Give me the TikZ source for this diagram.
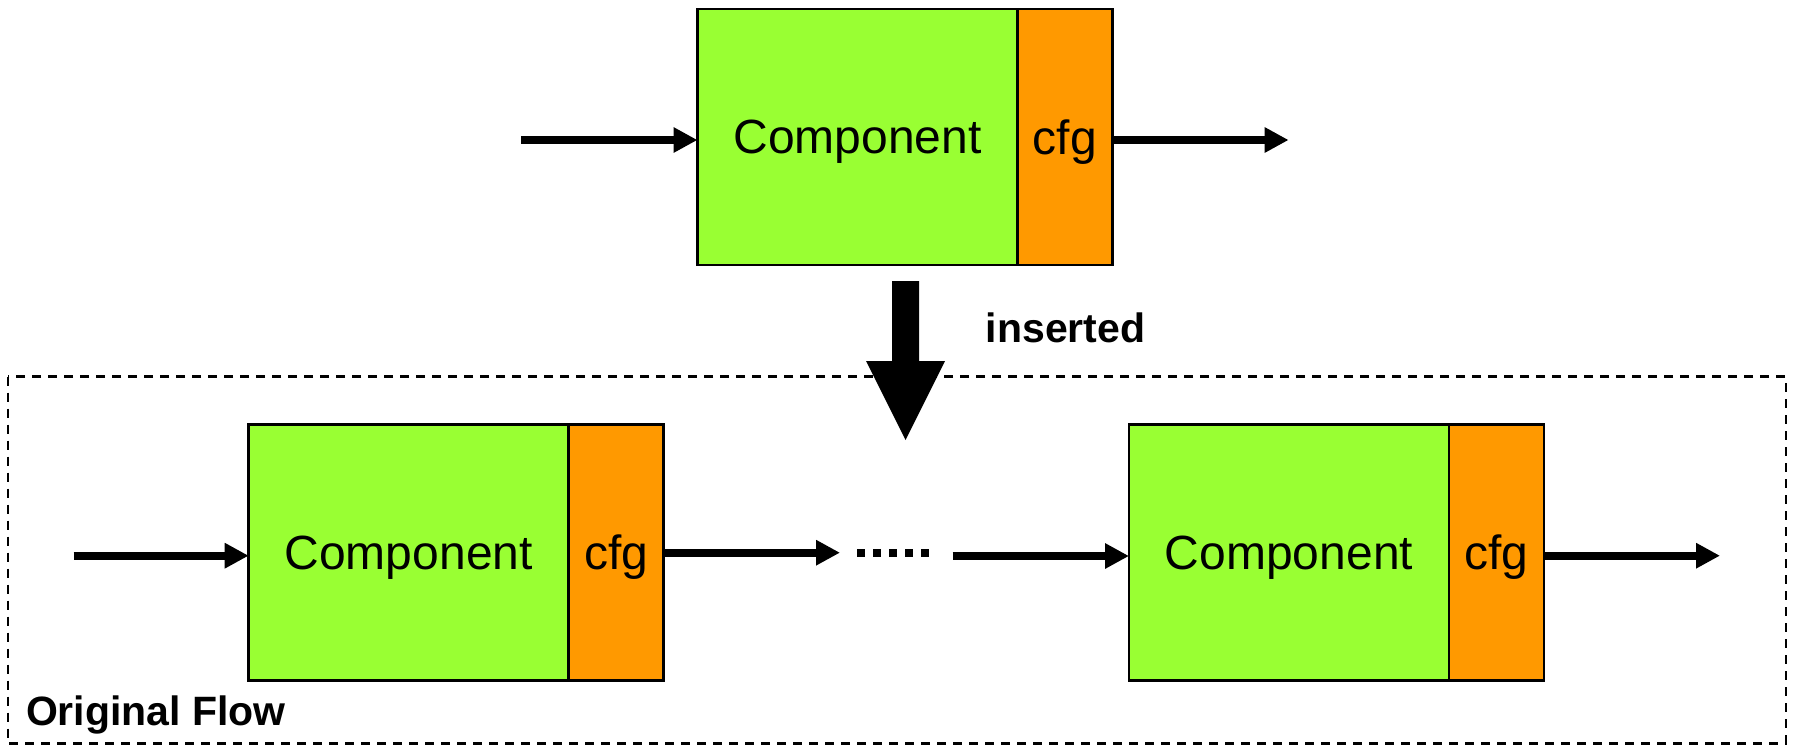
\documentclass[tikz,border=0pt]{standalone}
\usepackage{fontspec}
\setmainfont{Liberation Sans}
\usetikzlibrary{arrows.meta}
\definecolor{compgreen}{RGB}{153,255,51}
\definecolor{cfgorange}{RGB}{255,153,0}
\begin{document}
\begin{tikzpicture}[x=1pt,y=-1pt,
  boxbase/.style={draw=black, line width=2.5pt, inner sep=0pt, outer sep=0pt, anchor=north west,
    minimum height=256pt, text depth=0pt, font=\fontsize{48}{56}\selectfont},
  gbox/.style={boxbase, fill=compgreen, minimum width=320pt},
  cbox/.style={boxbase, fill=cfgorange, minimum width=95pt},
  arr/.style={line width=8pt, -{Triangle[length=24pt,width=24pt]}},
  boldlbl/.style={font=\bfseries\fontsize{41}{48}\selectfont, inner sep=0pt, anchor=base west}
]
\useasboundingbox (0,0) rectangle (1796,745);
\fill[white] (0,0) rectangle (1796,745);

% dashed frame
\draw[line width=2.5pt, dash pattern=on 9pt off 7pt] (8,376.7) rectangle (1786,743.3);

% top component
\node[gbox] (tg) at (697.5,9) {Component};
\node[cbox] (tc) at (tg.north east) {cfg};
\coordinate (tin) at (521,140);
\coordinate (tout) at (1288.6,140);
\draw[arr] (tin) -- (tin -| tg.west);
\draw[arr] (tin -| tc.east) -- (tout);

% big insert arrow
\fill[black] (892,281) -- (919,281) -- (919,361) -- (945,361) -- (905.5,440)
  -- (866,361) -- (892,361) -- cycle;
\node[boldlbl] (ins) at (985.7,342.7) {inserted};

% bottom left component
\node[gbox] (bg1) at (248.7,424.3) {Component};
\node[cbox] (bc1) at (bg1.north east) {cfg};
% bottom right component
\node[gbox] (bg2) at (1129,424.3) {Component};
\node[cbox] (bc2) at (bg2.north east) {cfg};

\coordinate (bin) at (73.7,555.7);
\coordinate (m1) at (840,552.7);
\coordinate (d1) at (857.3,552.7);
\coordinate (d2) at (937,552.7);
\coordinate (m2) at (952.7,556);
\coordinate (bout) at (1720,555.7);

\draw[arr] (bin) -- (bin -| bg1.west);
\draw[arr] (m1 -| bc1.east) -- (m1);
\draw[line width=7.7pt, dash pattern=on 7.5pt off 8.5pt] (d1) -- (d2);
\draw[arr] (m2) -- (m2 -| bg2.west);
\draw[arr] (bout -| bc2.east) -- (bout);

\node[boldlbl] (of) at (25.9,725) {Original Flow};
\end{tikzpicture}
\end{document}
